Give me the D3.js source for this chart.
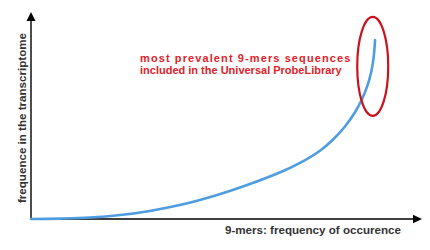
<!DOCTYPE html>
<html lang="en">
    <head>
        <meta charset="utf-8">
        <style>
            body { margin: 0; background: #fff; }
            svg { display: block; }
            .axis-label {
              font: bold 11.6px Arial, "Liberation Sans", sans-serif;
              fill: #333;
            }
            .note {
              font: bold 11px Arial, "Liberation Sans", sans-serif;
              fill: #e3222a;
            }
        </style>
        <script src="https://d3js.org/d3.v7.min.js"></script>
    </head>
    <body>
        <svg width="430" height="250"></svg>
        <script>
            // curve (arbitrary units, 0-100 on both axes)
            var occurrence = [0, 7.4, 15.1, 22.8, 30.4, 38.9, 47.6, 56.0, 64.5, 68.8, 73.9, 77.2, 80.3, 82.9, 84.7, 86.0, 87.0, 87.6, 88.0];
            var frequence  = [0, 0.2, 0.7, 1.9, 3.9, 7.1, 11.6, 16.9, 23.2, 27.1, 33.0, 38.3, 44.7, 51.7, 58.1, 64.2, 70.9, 77.6, 86.5];

            var xLabel = "9-mers: frequency of occurence";
            var yLabel = "frequence in the transcriptome";
            var noteLines = ["most prevalent 9-mers sequences", "included in the Universal ProbeLibrary"];
            // ring around the top of the curve (data units)
            var ringCenter = [87.4, 73.7];

            var svg = d3.select("svg");

            var x = d3.scaleLinear().domain([0, 100]).range([31, 422]);
            var y = d3.scaleLinear().domain([0, 100]).range([219, 12]);

            // axes: plain lines with arrow heads
            var ax = svg.append("g").attr("stroke", "#000").attr("stroke-width", 1.4);
            ax.append("line")
                .attr("x1", x(0)).attr("y1", y(0))
                .attr("x2", x(0)).attr("y2", y(100) + 6);
            ax.append("line")
                .attr("x1", x(0)).attr("y1", y(0))
                .attr("x2", x(100) - 6).attr("y2", y(0));

            svg.append("path")
                .attr("fill", "#000")
                .attr("d", "M" + x(0) + "," + y(100) + "l-4.5,9h9z");
            svg.append("path")
                .attr("fill", "#000")
                .attr("d", "M" + x(100) + "," + y(0) + "l-9,-4.2v8.4z");

            // the curve
            var pts = occurrence.map(function(d, i) { return [d, frequence[i]]; });
            var line = d3.line()
                .x(function(d) { return x(d[0]); })
                .y(function(d) { return y(d[1]); })
                .curve(d3.curveCatmullRom.alpha(0.5));

            svg.append("path")
                .datum(pts)
                .attr("fill", "none")
                .attr("stroke", "#4e9de0")
                .attr("stroke-width", 2.6)
                .attr("stroke-linecap", "round")
                .attr("d", line);

            // red ring
            svg.append("ellipse")
                .attr("cx", x(ringCenter[0]))
                .attr("cy", y(ringCenter[1]))
                .attr("rx", 15.5)
                .attr("ry", 49.5)
                .attr("fill", "none")
                .attr("stroke", "#c8141e")
                .attr("stroke-width", 2.2);

            // labels
            svg.append("text")
                .attr("class", "axis-label")
                .attr("x", 225)
                .attr("y", 233.5)
                .text(xLabel);

            svg.append("text")
                .attr("class", "axis-label")
                .attr("transform", "translate(26,118) rotate(-90)")
                .attr("text-anchor", "middle")
                .text(yLabel);

            svg.selectAll("text.note")
                .data(noteLines)
                .enter()
                .append("text")
                    .attr("class", "note")
                    .attr("x", 140)
                    .attr("y", function(d, i) { return 62 + i * 11.5; })
                    .style("letter-spacing", function(d, i) { return i == 0 ? "1.1px" : "0px"; })
                    .text(function(d) { return d; });
        </script>
    </body>
</html>
